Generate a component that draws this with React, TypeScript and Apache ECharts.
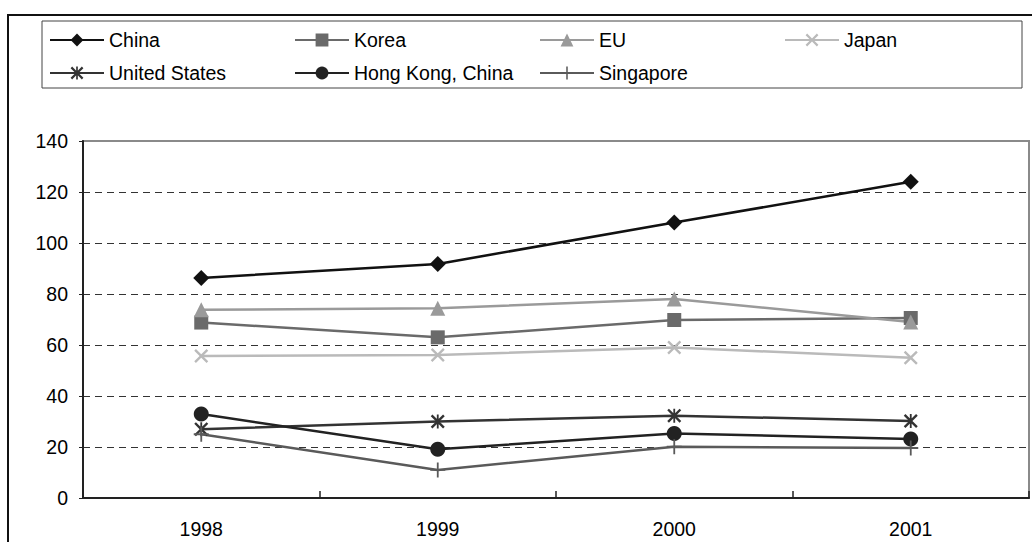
import React, { useEffect, useRef } from "react";
import * as echarts from "echarts";

const years = ["1998", "1999", "2000", "2001"];
const china = [86.3, 91.8, 108, 124];
const korea = [68.8, 63, 69.8, 70.6];
const eu = [73.8, 74.4, 78, 69];
const japan = [55.7, 56.1, 59, 55];
const unitedStates = [27, 30, 32.3, 30.2];
const hongKong = [32.9, 19.1, 25.3, 23.1];
const singapore = [25, 11, 20.1, 19.6];

const yTicks = { min: 0, max: 140, interval: 20 };

const X_PATH =
  "path://M0,1.2 L1.2,0 L5,3.8 L8.8,0 L10,1.2 L6.2,5 L10,8.8 L8.8,10 L5,6.2 L1.2,10 L0,8.8 L3.8,5 Z";
const STAR_PATH =
  "path://M0,1.2 L1.2,0 L5,3.8 L8.8,0 L10,1.2 L6.2,5 L10,8.8 L8.8,10 L5,6.2 L1.2,10 L0,8.8 L3.8,5 Z M4.35,0 L5.65,0 L5.65,10 L4.35,10 Z";
const PLUS_PATH =
  "path://M4.4,0 L5.6,0 L5.6,4.4 L10,4.4 L10,5.6 L5.6,5.6 L5.6,10 L4.4,10 L4.4,5.6 L0,5.6 L0,4.4 L4.4,4.4 Z";

const FONT = "'Liberation Sans', Arial, sans-serif";
const FS = 19.5;

export default function App() {
  const ref = useRef<HTMLDivElement>(null);

  useEffect(() => {
    if (!ref.current) return;
    const chart = echarts.init(ref.current, undefined, { renderer: "svg" });

    const seriesDefs = [
      { name: "China", data: china, color: "#111111", symbol: "diamond", size: 16 },
      { name: "Korea", data: korea, color: "#6a6a6a", symbol: "rect", size: 14 },
      { name: "EU", data: eu, color: "#9a9a9a", symbol: "triangle", size: 15 },
      { name: "Japan", data: japan, color: "#bababa", symbol: X_PATH, size: 14 },
      { name: "United States", data: unitedStates, color: "#333333", symbol: STAR_PATH, size: 14 },
      { name: "Hong Kong, China", data: hongKong, color: "#222222", symbol: "circle", size: 15 },
      { name: "Singapore", data: singapore, color: "#5a5a5a", symbol: PLUS_PATH, size: 15 },
    ];

    const legendPos = [
      [49, 30],
      [294, 30],
      [539, 30],
      [784, 30],
      [49, 63],
      [294, 63],
      [539, 63],
    ];

    const legends = seriesDefs.map((s, i) => ({
      data: [s.name],
      left: legendPos[i][0],
      top: legendPos[i][1],
      padding: 0,
      itemWidth: 54,
      itemHeight: 16,
      selectedMode: false,
      textStyle: { fontSize: FS, color: "#000", fontFamily: FONT },
    }));

    chart.setOption({
      animation: false,
      backgroundColor: "#fff",
      textStyle: { fontFamily: FONT },
      legend: legends,
      graphic: [
        {
          type: "rect",
          x: 8,
          y: 15,
          shape: { width: 1200, height: 700 },
          style: { fill: "none", stroke: "#111", lineWidth: 2 },
          silent: true,
        },
        {
          type: "rect",
          x: 42,
          y: 21,
          shape: { width: 980, height: 67 },
          style: { fill: "none", stroke: "#444", lineWidth: 1 },
          silent: true,
        },
      ],
      grid: {
        left: 83,
        right: 3,
        top: 141,
        bottom: 44,
        show: true,
        borderColor: "#8a8a8a",
        borderWidth: 2,
        backgroundColor: "transparent",
      },
      xAxis: {
        type: "category",
        data: years,
        boundaryGap: true,
        axisLine: { show: true, lineStyle: { color: "#222", width: 2 } },
        axisTick: { show: true, inside: true, length: 7, lineStyle: { color: "#222", width: 1.5 } },
        axisLabel: { margin: 21, fontSize: FS, color: "#000", fontFamily: FONT },
        splitLine: { show: false },
      },
      yAxis: {
        type: "value",
        min: yTicks.min,
        max: yTicks.max,
        interval: yTicks.interval,
        axisLine: { show: true, lineStyle: { color: "#222", width: 2 } },
        axisTick: { show: true, inside: false, length: 4, lineStyle: { color: "#222", width: 1 } },
        axisLabel: { margin: 15, fontSize: FS, color: "#000", fontFamily: FONT },
        splitLine: {
          show: true,
          showMinLine: false,
          showMaxLine: false,
          lineStyle: { type: [7, 5], color: "#333", width: 1 },
        },
      },
      series: seriesDefs.map((s) => ({
        name: s.name,
        type: "line",
        data: s.data,
        symbol: s.symbol,
        symbolSize: s.size,
        symbolKeepAspect: true,
        showSymbol: true,
        itemStyle: { color: s.color },
        lineStyle: { color: s.color, width: 2.5 },
        emphasis: { disabled: true },
      })),
    });

    return () => chart.dispose();
  }, []);

  return (
    <div
      ref={ref}
      style={{ position: "absolute", left: 0, top: 0, width: 1032, height: 542 }}
    />
  );
}
